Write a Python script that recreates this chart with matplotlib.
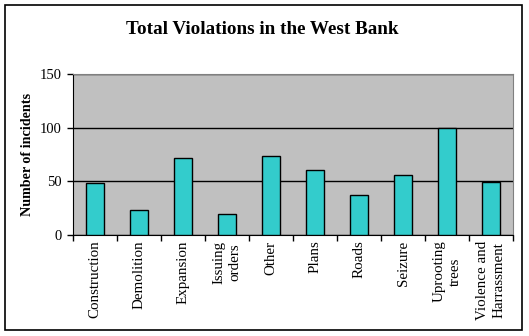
import matplotlib
matplotlib.use("Agg")
import matplotlib.pyplot as plt
from matplotlib.patches import Rectangle

categories = ["Construction", "Demolition", "Expansion", "Issuing\norders", "Other",
              "Plans", "Roads", "Seizure", "Uprooting\ntrees", "Violence and\nHarrassment"]
incidents = [48, 23, 72, 20, 74, 61, 37, 56, 100, 49]
y_ticks = [0, 50, 100, 150]

plt.rcParams['font.family'] = ['Liberation Serif', 'DejaVu Serif']

fig = plt.figure(figsize=(5.29, 3.36), dpi=100)
W, H = 529, 336
ax = fig.add_axes([73 / W, 1 - 235 / H, 440 / W, 161 / H])

# outer chart frame
fig.patches.append(Rectangle((5 / W, 1 - 330 / H), 517 / W, 325 / H, transform=fig.transFigure,
                             fill=False, edgecolor='black', linewidth=1.2))

x = range(len(categories))
ax.set_facecolor('#c0c0c0')
ax.bar(x, incidents, width=0.4, color='#33cccc', edgecolor='black', linewidth=1, zorder=3)
ax.set_xlim(-0.5, len(categories) - 0.5)
ax.set_ylim(0, 150)
ax.set_yticks(y_ticks)
ax.yaxis.grid(True, color='black', linewidth=1, zorder=1)
ax.set_axisbelow(True)

ax.set_xticks([i - 0.5 for i in range(len(categories) + 1)], minor=False)
ax.set_xticklabels([])
ax.set_xticks(list(x), minor=True)
ax.set_xticklabels(categories, minor=True, rotation=90, fontsize=10.8, va='top', ha='center',
                   multialignment='center', linespacing=1.35)
ax.tick_params(axis='x', which='minor', length=0, pad=4)
ax.tick_params(axis='x', which='major', length=4, direction='out', width=1)
ax.tick_params(axis='y', length=4, direction='out', width=1, labelsize=10.5, pad=4)

for side in ['top', 'right']:
    ax.spines[side].set_color('#808080')
for side in ['left', 'bottom']:
    ax.spines[side].set_color('black')

ax.set_ylabel('Number of incidents', fontsize=10.2, fontweight='bold', labelpad=4)
fig.text(262 / W, 1 - 30 / H, 'Total Violations in the West Bank', ha='center', va='center',
         fontsize=13.8, fontweight='bold')

fig.savefig('out.png', dpi=100)
